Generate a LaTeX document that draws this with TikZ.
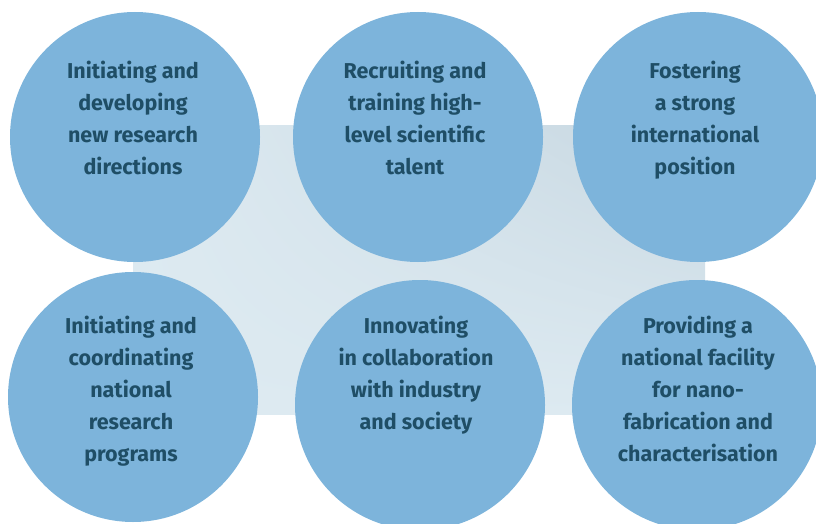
\documentclass[tikz,border=0pt]{standalone}
\usepackage{fontspec}
\setmainfont{Fira Sans}
\usetikzlibrary{positioning,shadings}

\definecolor{bubblefill}{HTML}{7DB4DB}
\definecolor{bubbletext}{HTML}{1F4E66}
\definecolor{panellight}{HTML}{DDEAF1}
\definecolor{paneldark}{HTML}{C7D7E1}

\begin{document}
\begin{tikzpicture}[x=1pt, y=-1pt,
	bubble/.style={circle, fill=bubblefill, minimum size=250pt, inner sep=0pt},
	aim/.style={anchor=north, align=center, text=bubbletext,
	font=\fontsize{21.5}{32}\selectfont\bfseries}]
	\useasboundingbox (0,0) rectangle (816,524);
	\clip (0,0) rectangle (816,524);
	% panel behind the circles
	\shade[lower left=panellight, upper right=paneldark,
	lower right=panellight, upper left=panellight]
	(133,126) rectangle (705,414);
	% top row
	\node[bubble] (b1) at (135,137) {};
	\node[bubble] (b2) at (418,137) {};
	\node[bubble] (b3) at (698,137) {};
	% bottom row
	\node[bubble] (b4) at (133,397) {};
	\node[bubble] (b5) at (420,405) {};
	\node[bubble] (b6) at (697,405) {};
	\node[aim] (t1) at (133,58) {Initiating and\\developing\\new research\\directions};
	\node[aim] (t2) at (415,58) {Recruiting and\\training high-\\level scientific\\talent};
	\node[aim] (t3) at (695,58) {Fostering\\a strong\\international\\position};
	\node[aim] (t4) at (131,313) {Initiating and\\coordinating\\national\\research\\programs};
	\node[aim] (t5) at (416,313) {Innovating\\in collaboration\\with industry\\and society};
	\node[aim] (t6) at (698,313) {Providing a\\national facility\\for nano-\\fabrication and\\characterisation};
\end{tikzpicture}
\end{document}
